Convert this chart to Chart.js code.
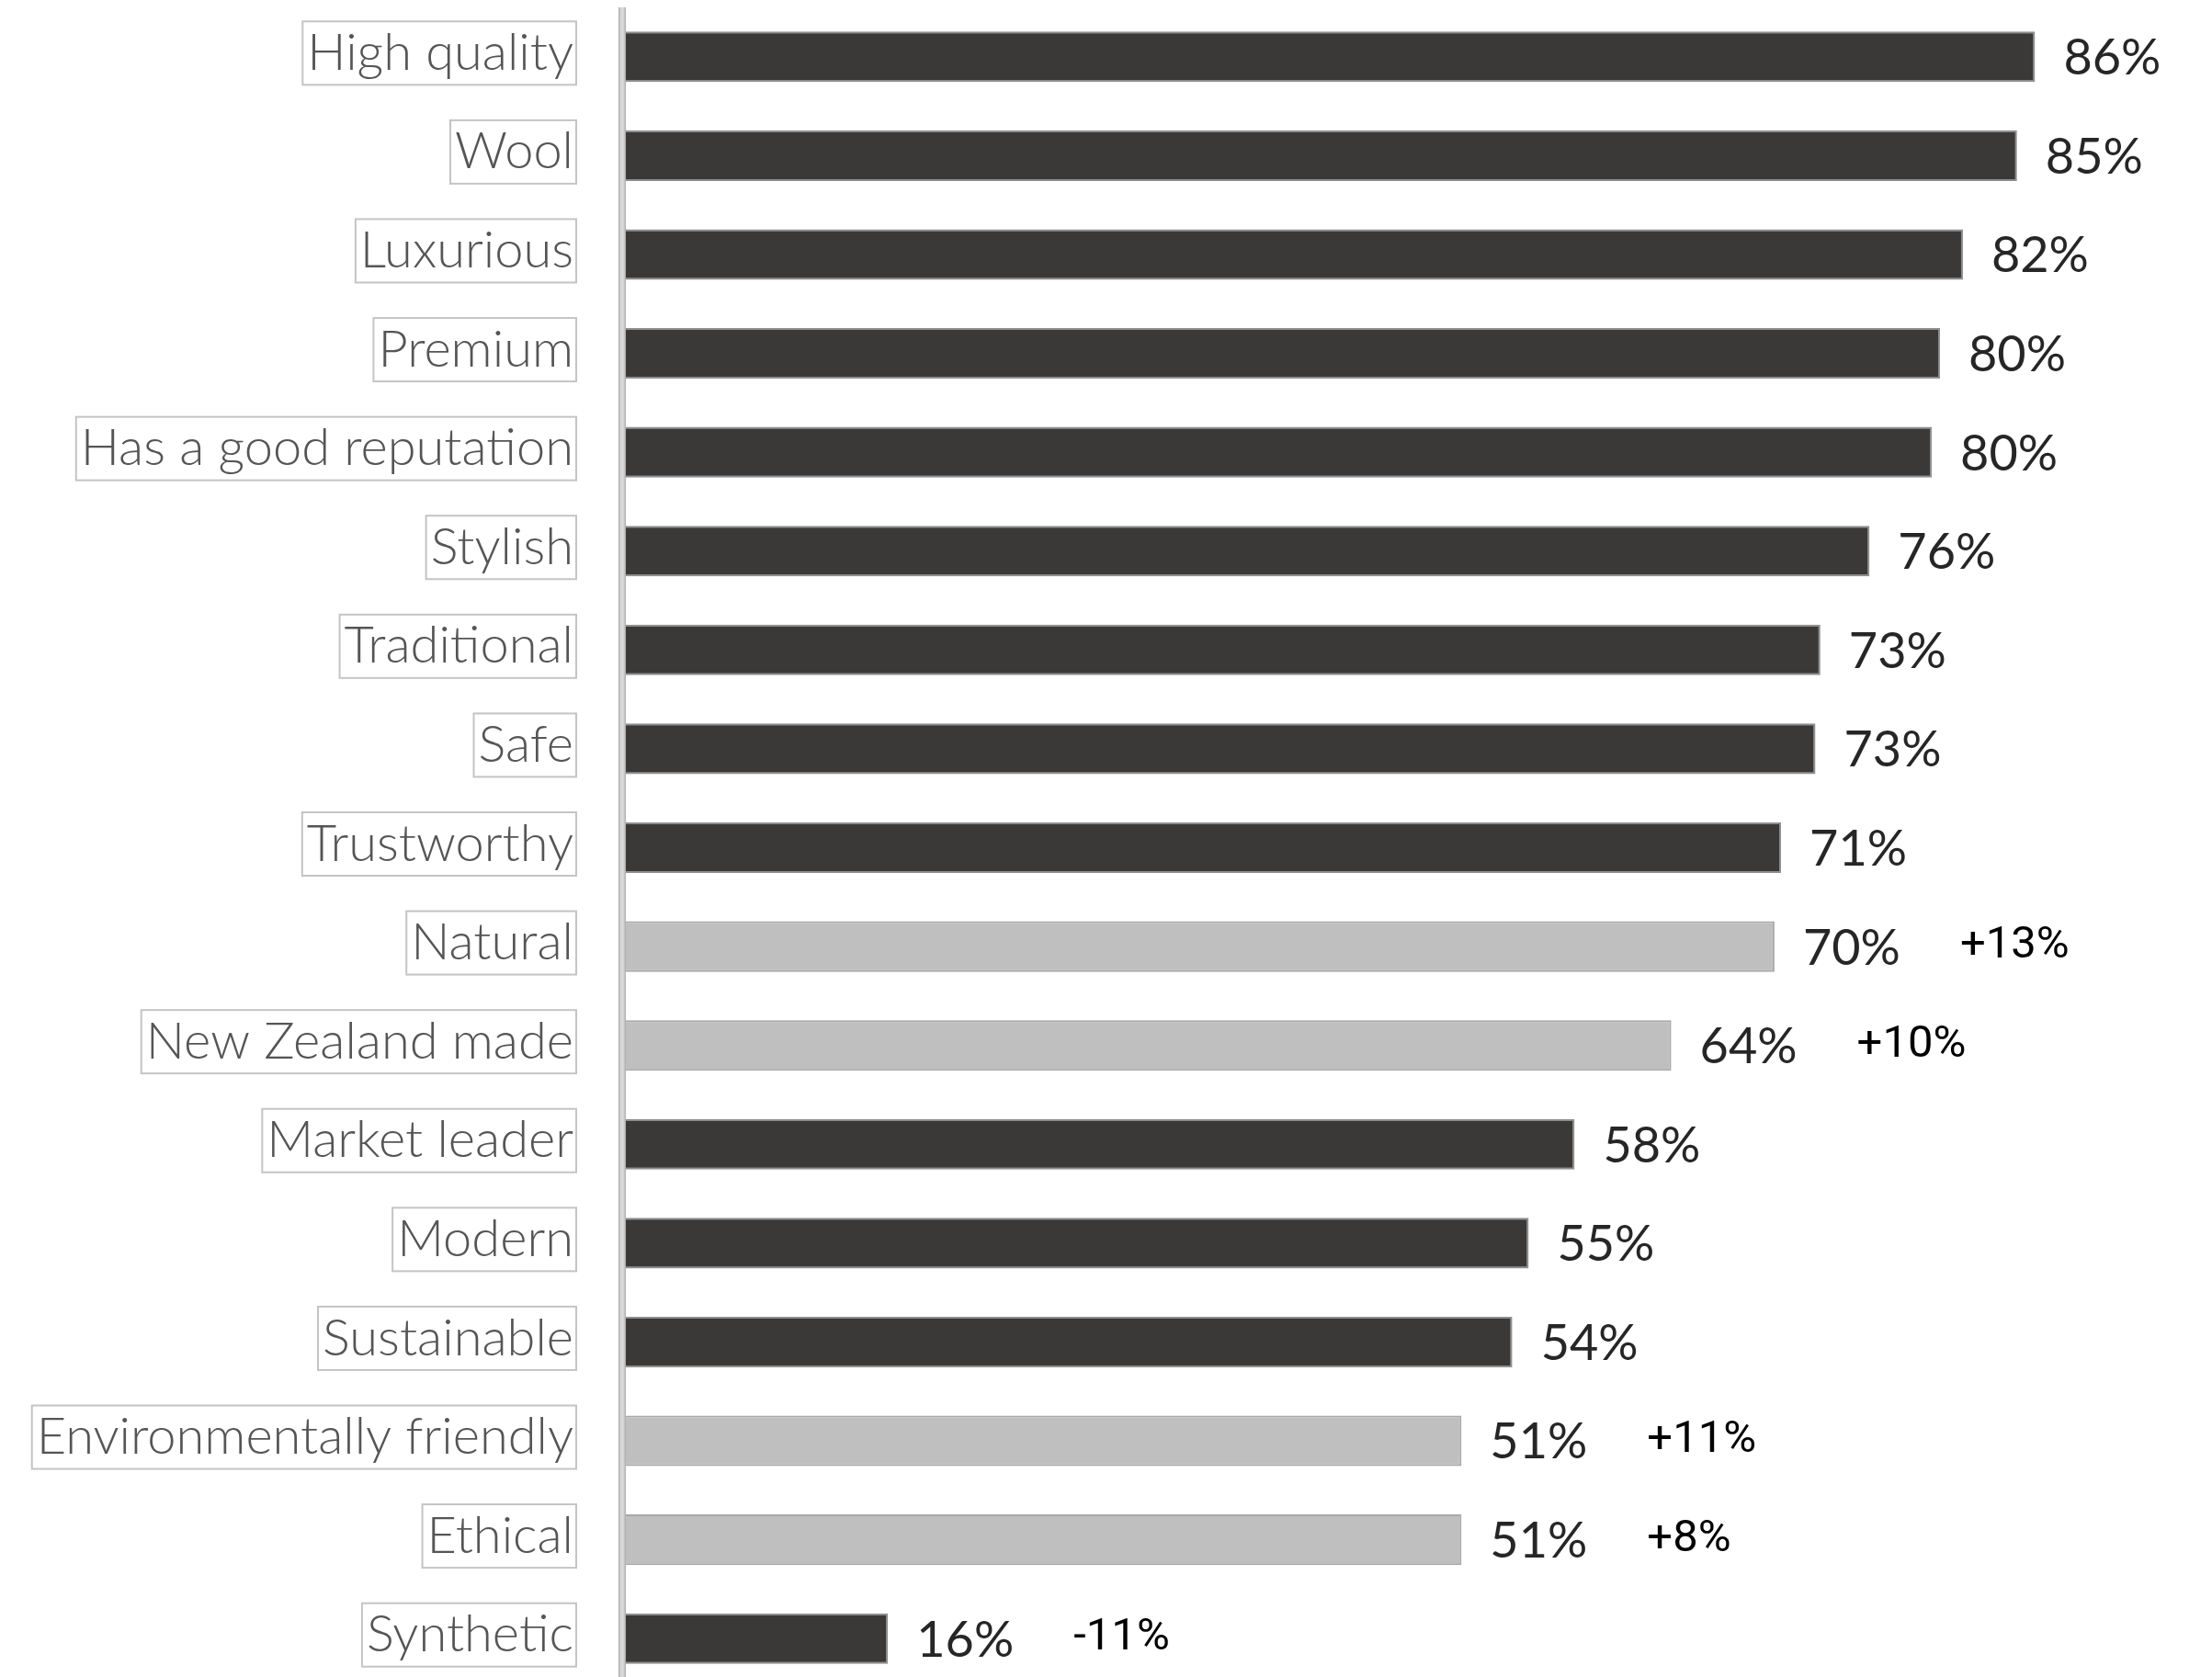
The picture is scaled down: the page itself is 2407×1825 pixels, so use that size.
<!DOCTYPE html>
<html>
<head>
<meta charset="utf-8">
<script src="https://cdn.jsdelivr.net/npm/chart.js@4.4.1/dist/chart.umd.min.js"></script>
<style>
  html, body { margin: 0; padding: 0; background: #fff; overflow: hidden; }
  #wrap { width: 2407px; height: 1825px; overflow: hidden; }
  #box { width: 2407px; height: 1840px; position: relative; }
</style>
</head>
<body>
<div id="wrap"><div id="box"><canvas id="myChart"></canvas></div></div>
<script>
var categories = [
  'High quality', 'Wool', 'Luxurious', 'Premium', 'Has a good reputation',
  'Stylish', 'Traditional', 'Safe', 'Trustworthy', 'Natural',
  'New Zealand made', 'Market leader', 'Modern', 'Sustainable',
  'Environmentally friendly', 'Ethical', 'Synthetic'
];
var values = [86, 84.9, 81.6, 80.2, 79.7, 75.9, 72.9, 72.6, 70.5, 70.1, 63.8, 57.9, 55.1, 54.1, 51, 51, 16];
var changes = [null, null, null, null, null, null, null, null, null, '+13%', '+10%', null, null, null, '+11%', '+8%', '-11%'];
var highlighted = ['Natural', 'New Zealand made', 'Environmentally friendly', 'Ethical'];

var DARK = '#3a3938';
var LIGHT = '#bfbfbf';
var labelFont = '300 56px Lato';
var tickPad = 57;

var barColors = categories.map(function (c) { return highlighted.indexOf(c) >= 0 ? LIGHT : DARK; });
var barBorders = categories.map(function (c) { return highlighted.indexOf(c) >= 0 ? '#a8a8a8' : '#8e8e8e'; });

var extras = {
  id: 'extras',
  afterDatasetsDraw: function (chart) {
    var ctx = chart.ctx;
    var a = chart.chartArea;
    var meta = chart.getDatasetMeta(0);
    ctx.save();

    // vertical axis line
    ctx.fillStyle = '#d6d6d6';
    ctx.fillRect(a.left - 8, a.top, 8, a.bottom - a.top);
    ctx.fillStyle = '#b2b2b2';
    ctx.fillRect(a.left - 8, a.top, 1.5, a.bottom - a.top);
    ctx.fillRect(a.left - 1.5, a.top, 1.5, a.bottom - a.top);

    // value + change labels
    ctx.textBaseline = 'middle';
    ctx.textAlign = 'left';
    meta.data.forEach(function (bar, i) {
      ctx.font = '54px Lato';
      ctx.fillStyle = '#262626';
      ctx.fillText(Math.round(values[i]) + '%', bar.x + 31, bar.y + 2);
      if (changes[i]) {
        ctx.font = '49px Roboto';
        ctx.fillStyle = '#000';
        ctx.fillText(changes[i], bar.x + 202, bar.y);
      }
    });

    // boxes round the category labels
    var ys = chart.scales.y;
    ctx.font = labelFont;
    ctx.strokeStyle = '#c4c4c4';
    ctx.lineWidth = 2;
    categories.forEach(function (c, i) {
      var y = ys.getPixelForTick(i) - 4;
      var w = ctx.measureText(c).width;
      var right = ys.right - tickPad + 3;
      ctx.strokeRect(right - w - 8, y - 34.5, w + 8, 69);
    });
    ctx.restore();
  }
};

var ctx = document.getElementById('myChart').getContext('2d');
var myChart = new Chart(ctx, {
  type: 'bar',
  data: {
    labels: categories,
    datasets: [{
      data: values,
      backgroundColor: barColors,
      borderColor: barBorders,
      borderWidth: 2,
      borderSkipped: 'start',
      categoryPercentage: 1,
      barPercentage: 0.512
    }]
  },
  options: {
    indexAxis: 'y',
    responsive: true,
    maintainAspectRatio: false,
    animation: false,
    layout: { padding: { top: 8, bottom: 3, left: 0, right: 0 } },
    plugins: { legend: { display: false }, tooltip: { enabled: false } },
    scales: {
      x: { display: false, min: 0, max: 96.8 },
      y: {
        grid: { display: false, drawTicks: false },
        border: { display: false },
        afterFit: function (scale) {
          scale.width = 681;
          scale.paddingTop = 0;
          scale.paddingBottom = 0;
        },
        ticks: {
          padding: tickPad,
          labelOffset: -4,
          color: '#555555',
          font: { family: 'Lato', size: 56, weight: '300' }
        }
      }
    }
  },
  plugins: [extras]
});
</script>
</body>
</html>
